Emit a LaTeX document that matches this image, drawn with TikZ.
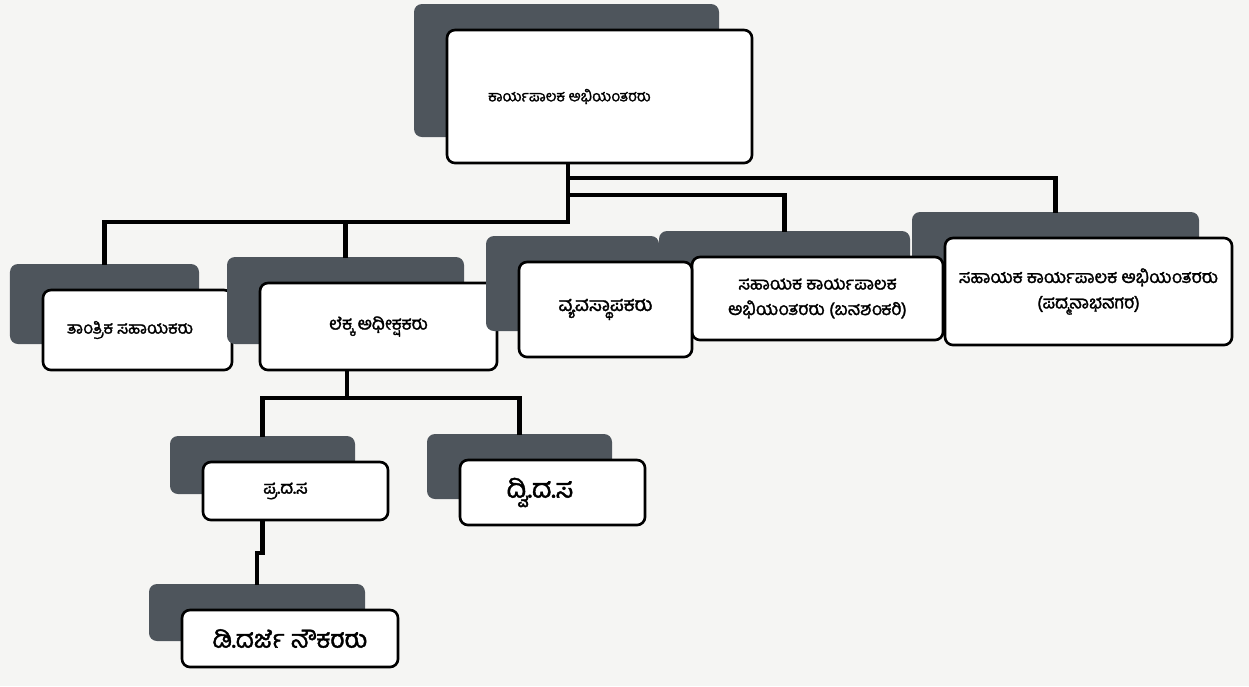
\documentclass[tikz,border=0pt]{standalone}
\usepackage{fontspec}
\newfontfamily\kanfont[Script=Kannada,FakeBold=1.6]{Hind Mysuru}
\usetikzlibrary{shadows}
\definecolor{shade}{HTML}{4E555C}
\definecolor{paper}{HTML}{F5F5F3}

\begin{document}
\begin{tikzpicture}[x=0.2mm,y=-0.2mm,
    post/.style={draw=black, line width=1.5pt, fill=white, rounded corners=1.6mm,
      general shadow={fill=shade, shadow xshift=-6.6mm, shadow yshift=5.2mm},
      align=center, inner sep=0pt, font=\kanfont\fontsize{10}{14.5}\selectfont},
    link/.style={line width=2.4pt, line cap=rect}]
  % page
  \fill[paper] (0,0) rectangle (1249,686);
  \useasboundingbox (0,0) rectangle (1249,686);

  % boxes
  \node[post, minimum width=61mm, minimum height=26.6mm, font=\kanfont\fontsize{8.5}{11}\selectfont] (top) at (599.5,96.5) {ಕಾರ್ಯಪಾಲಕ ಅಭಿಯಂತರರು\hspace*{12mm}};
  \node[post, minimum width=37.8mm, minimum height=16mm, font=\kanfont\fontsize{9.5}{12}\selectfont] (tan) at (137.5,330) {ತಾಂತ್ರಿಕ ಸಹಾಯಕರು\hspace*{3mm}};
  \node[post, minimum width=47.4mm, minimum height=17.4mm] (lek) at (378.5,326.5) {ಲೆಕ್ಕ ಅಧೀಕ್ಷಕರು};
  \node[post, minimum width=57.4mm, minimum height=21.4mm] (pad) at (1088.5,291.5) {ಸಹಾಯಕ ಕಾರ್ಯಪಾಲಕ ಅಭಿಯಂತರರು\\(ಪದ್ಮನಾಭನಗರ)};
  \node[post, minimum width=50.2mm, minimum height=16.6mm] (bsk) at (817.5,298.5) {ಸಹಾಯಕ ಕಾರ್ಯಪಾಲಕ\\ಅಭಿಯಂತರರು (ಬನಶಂಕರಿ)};
  \node[post, minimum width=34.6mm, minimum height=19mm, font=\kanfont\fontsize{11}{14}\selectfont] (vya) at (605.5,309.5) {ವ್ಯವಸ್ಥಾಪಕರು};
  \node[post, minimum width=37mm, minimum height=11.6mm] (pra) at (295.5,491) {ಪ್ರ.ದ.ಸ\hspace*{4mm}};
  \node[post, minimum width=37mm, minimum height=13mm, font=\kanfont\fontsize{15}{18}\selectfont] (dvi) at (552.5,492.5) {ದ್ವಿ.ದ.ಸ\hspace*{5mm}};
  \node[post, minimum width=43.2mm, minimum height=11.4mm, font=\kanfont\fontsize{14}{17}\selectfont] (dgr) at (290,638.5) {ಡಿ.ದರ್ಜೆ ನೌಕರರು};

  % tops of the back plates
  \coordinate (tanS) at ([shift={(-33,-26)}]tan.north);
  \coordinate (lekS) at ([shift={(-33,-26)}]lek.north);
  \coordinate (bskS) at ([shift={(-33,-26)}]bsk.north);
  \coordinate (padS) at ([shift={(-33,-26)}]pad.north);
  \coordinate (praS) at ([shift={(-33,-26)}]pra.north);
  \coordinate (dviS) at ([shift={(-33,-26)}]dvi.north);
  \coordinate (dgrS) at ([shift={(-33,-26)}]dgr.north);

  % connectors
  \coordinate (t0) at (568,0);
  \draw[link] (top.south -| t0) -- (t0 |- 0,222) -| (tanS);
  \draw[link] (lekS |- 0,222) -- (lekS);
  \draw[link] (t0 |- 0,178) -| (padS);
  \draw[link] (t0 |- 0,195) -| (bskS);
  \coordinate (l0) at (347,398);
  \draw[link] (lek.south -| l0) -- (l0) -| (praS);
  \draw[link] (l0) -| (dviS);
  \draw[link] (pra.south -| praS) -- ++(0,32) -| (dgrS);
\end{tikzpicture}
\end{document}
